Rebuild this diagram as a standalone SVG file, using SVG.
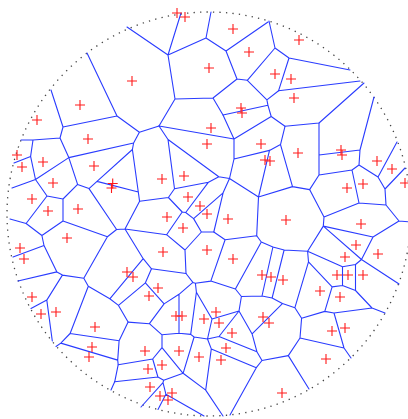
<svg xmlns="http://www.w3.org/2000/svg" width="408" height="419" viewBox="0 0 408 419">
<style>
.e{fill:none;stroke:#2a3cff;stroke-width:1.1;stroke-linecap:round;stroke-linejoin:round}
.s{fill:none;stroke:#ff1a1a;stroke-width:1.1}
.c{fill:none;stroke:#444;stroke-width:1.3;stroke-dasharray:1.3 5.2}
</style>
<defs><path id="p" d="M-5 0H5M0-5V5"/></defs>
<rect width="408" height="419" fill="#fff"/>
<circle class="c" cx="209" cy="214" r="202"/>
<g id="edges" class="e">
<path d="M87 53L117 116M51 90L63 127L117 116L139.4 132.3L159 126M139.4 132.3L133.6 143L68.8 157.6M133.6 143L132.4 149.5L97 181.4L89 188.6M132.4 149.5L138.3 192L139.6 201.3M97 181.4L138.3 192M63 127L60 138L33 140L21 140M33 140L30.6 156.4L35.5 179.5M30.6 156.4L14 163M60 138L68.8 157.6M68.8 157.6L35.5 179.5L12 188M68.8 157.6L77.6 184.4L89 188.6M35.5 179.5L47 196L63 199L77.6 184.4M89 188.6L116.6 229.5L107.4 236.7M47 196L26.1 223.5L10 219M63 199L63 221L41.9 235.5L26.1 223.5M63 221L107.4 236.7M41.9 235.5L44 245.5L13 257M44 245.5L56.9 271.9L62.4 275.1L46.8 300.1L31 308.5M56.9 271.9L18 281M46.8 300.1L52.3 341M62.4 275.1L83.8 278.3L107.4 236.7M83.8 278.3L88.3 286.3L70.1 333.5L60.8 343.1L56 346.5M70.1 333.5L119.1 340.8M60.8 343.1L117.7 360.1L118.2 364.7L114.7 381.8L111 390M119.1 340.8L117.7 360.1M119.1 340.8L128.1 322.1L118.5 305.4L109.8 298.8L88.3 286.3M118.5 305.4L145.4 282.8L151.5 268.8L143.2 258.7L109.8 298.8M116.6 229.5L125 229L143.2 258.7M125 229L139.6 201.3M125 229L166.6 234.7"/>
<path d="M128.1 322.1L149.4 323.7L164.1 303.9L145.4 282.8M164.1 303.9L179 294.3L192.9 282.4L186 273.5L151.5 268.8M149.4 323.7L162 334.8L179 333.3L179 294.3M162 334.8L162 347.7L152.7 359L118.2 364.7M152.7 359L157.9 377L114.7 381.8M157.9 377L163.7 380.2L183.1 373.3L162 347.7M163.7 380.2L163 382.6L141 407M163 382.6L165.9 394.2L158 409.5M165.9 394.2L204 416M183.1 373.3L194.1 337L190.7 334.4L179 333.3M190.7 334.4L196.4 292.3L195.4 283.3L192.9 282.4M195.4 283.3L210.8 281.1L225.1 239.7M196.4 292.3L212 319L207.5 339L194.1 337M183.1 373.3L205.7 390.1L211.3 348.9L207.5 339M205.7 390.1L223 416M212 319L239 311L241.4 296.5L235.4 289L210.8 281.1M207.5 339L219 336.5L239 311M219 336.5L256.9 351.7L252.1 333.9L239 311M211.3 348.9L256.3 367.7L262 360.5L256.9 351.7M256.3 367.7L230 415M262 360.5L288.3 355.6M252.1 333.9L282.4 303.6L272.1 298L262 296L241.4 296.5M235.4 289L261.3 242L256.7 235.7L225.1 239.7L213.8 232M261.3 242L272.9 247L262 296M272.9 247L284.1 250L272.1 298M284.1 250L307.6 251.2"/>
<path d="M185 250L186 273.5M185 250L166.6 234.7L182.2 212L168.4 197.5L139.6 201.3M185 250L201.4 232L193.6 218.6L185.7 212.5L182.2 212M201.4 232L213.8 232L223.1 192.8L193.6 218.6M223.1 192.8L229.5 178.5L218.8 176.7L208.5 182.2L185.7 212.5M208.5 182.2L174.5 188.7L168.4 197.5M174.5 188.7L168 139.5L218.8 176.7M168 139.5L159 126L234 139L234 159L229.5 178.5L258.5 197L256.7 235.7M234 159L269.5 150.4L280.5 144.6L285 126.3M269.5 150.4L258.5 197L292.5 186.6L280.5 144.6M292.5 186.6L309.6 189.6M223 115L234 139L271.2 116.5L285 126.3M271.2 116.5L267.9 105.2L223 115M267.9 105.2L266.9 99.9L278.6 90.7M266.9 99.9L247.3 80.3"/>
<path d="M181 13L168 55L127 27M168 55L206 38L211 12M206 38L226 51L268 22M226 51L237 79L247.3 80.3L275 48M237 79L213 98L175 99L168 55M213 98L223 115M175 99L159 126M269 21L275 48L289 58L350 70M289 58L278.6 90.7L360 81M364 83L319 123L285 126.3"/>
<path d="M319 123L319 155M374 97L360 150L319 155M360 150L359 165L352 170M359 165L378 177L397 142M378 177L385 189L405 168M385 189L386 205L359 203M386 205L399 221L411 222M399 221L373 237L323.3 226.1M373 237L361.5 259.5L399 284M361.5 259.5L323.3 226.1M361.5 259.5L355.5 264.5L355.5 290.5L372 308L385 313M355.5 264.5L342.5 266.7L307.6 251.2L323.3 226.1M342.5 266.7L342.5 285.5L355.5 290.5M342.5 285.5L332.1 286.9L308.5 261.8L307.6 251.2M308.5 261.8L294.9 307.7L282.4 303.6M332.1 286.9L324.8 311.4M294.9 307.7L301.6 318.3L324.8 311.4L334 313L372 308M334 313L344 348L351 358M344 348L300 338M301.6 318.3L300 338L288.3 355.6L309 389M319 155L319 175L352 170L359 203L324 217M319 175L309.6 189.6L324 217M324 217L323.3 226.1"/>
</g>
<g id="sites" class="s">
<use href="#p" x="177" y="13"/><use href="#p" x="185" y="17"/><use href="#p" x="233" y="29"/><use href="#p" x="299" y="40"/><use href="#p" x="132" y="81"/><use href="#p" x="209" y="68"/><use href="#p" x="249" y="52"/><use href="#p" x="275" y="74"/><use href="#p" x="291" y="79"/><use href="#p" x="294" y="98"/><use href="#p" x="80" y="105"/><use href="#p" x="37" y="120"/><use href="#p" x="241" y="108"/><use href="#p" x="242" y="113"/><use href="#p" x="211" y="128"/><use href="#p" x="88" y="139"/><use href="#p" x="207" y="144"/><use href="#p" x="261" y="144"/><use href="#p" x="265" y="160"/><use href="#p" x="270" y="161"/><use href="#p" x="298" y="153"/><use href="#p" x="341" y="150"/><use href="#p" x="342" y="155"/><use href="#p" x="377" y="161"/><use href="#p" x="392" y="169"/><use href="#p" x="405" y="183"/><use href="#p" x="363" y="184"/><use href="#p" x="347" y="188"/><use href="#p" x="17" y="155"/><use href="#p" x="22" y="167"/><use href="#p" x="43" y="162"/><use href="#p" x="94" y="166"/><use href="#p" x="53" y="183"/><use href="#p" x="112.7" y="183.5"/><use href="#p" x="111.5" y="188"/><use href="#p" x="162" y="179"/><use href="#p" x="184" y="176"/><use href="#p" x="188" y="197"/><use href="#p" x="32" y="199"/><use href="#p" x="48" y="211"/><use href="#p" x="78" y="209"/><use href="#p" x="200" y="206"/><use href="#p" x="207" y="214"/><use href="#p" x="167" y="217"/><use href="#p" x="228" y="219"/><use href="#p" x="286" y="220"/><use href="#p" x="361" y="224"/><use href="#p" x="183" y="228"/><use href="#p" x="67" y="238"/><use href="#p" x="20" y="248"/><use href="#p" x="24" y="259"/><use href="#p" x="163" y="252"/><use href="#p" x="207" y="250"/><use href="#p" x="233" y="259"/><use href="#p" x="356" y="245"/><use href="#p" x="378" y="254"/><use href="#p" x="345" y="257"/><use href="#p" x="127" y="272"/><use href="#p" x="133" y="277"/><use href="#p" x="262" y="275"/><use href="#p" x="271" y="277"/><use href="#p" x="283" y="280"/><use href="#p" x="337" y="275"/><use href="#p" x="348" y="275"/><use href="#p" x="363" y="275"/><use href="#p" x="158" y="288"/><use href="#p" x="149" y="296"/><use href="#p" x="32" y="297"/><use href="#p" x="320" y="291"/><use href="#p" x="340" y="297"/><use href="#p" x="41" y="314"/><use href="#p" x="56" y="312"/><use href="#p" x="176" y="316"/><use href="#p" x="182" y="316"/><use href="#p" x="204" y="319"/><use href="#p" x="216" y="312"/><use href="#p" x="219" y="323"/><use href="#p" x="263" y="317"/><use href="#p" x="269" y="323"/><use href="#p" x="95" y="327"/><use href="#p" x="232" y="333"/><use href="#p" x="332" y="331"/><use href="#p" x="345" y="328"/><use href="#p" x="226" y="348"/><use href="#p" x="92" y="347"/><use href="#p" x="89" y="357"/><use href="#p" x="145" y="351"/><use href="#p" x="179" y="351"/><use href="#p" x="199" y="357"/><use href="#p" x="221" y="360"/><use href="#p" x="326" y="359"/><use href="#p" x="148" y="369"/><use href="#p" x="162" y="365"/><use href="#p" x="150" y="387"/><use href="#p" x="160" y="396"/><use href="#p" x="172" y="393"/><use href="#p" x="168" y="400"/><use href="#p" x="282" y="393"/>
</g>
</svg>
